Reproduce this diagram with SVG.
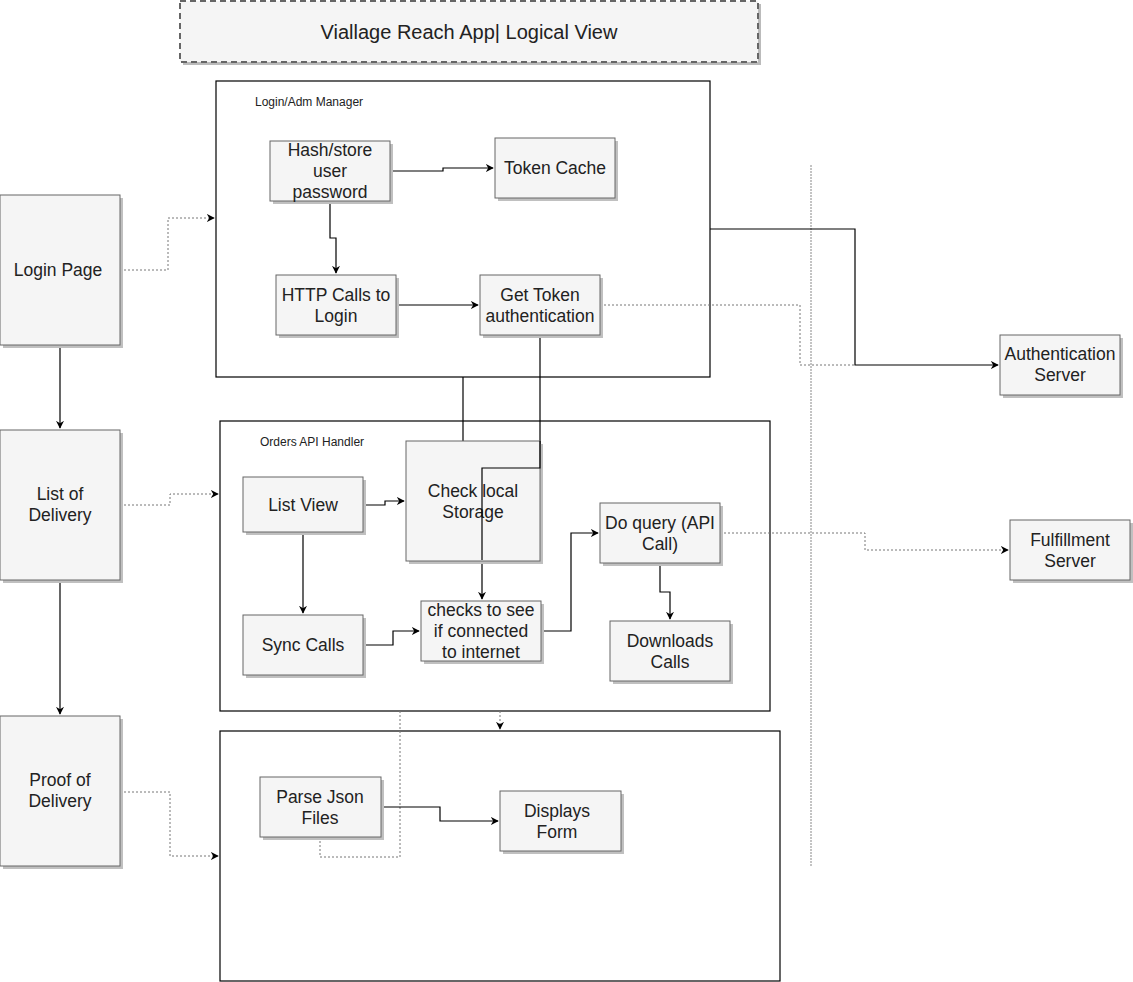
<svg xmlns="http://www.w3.org/2000/svg" width="1133" height="982" viewBox="0 0 1133 982">
<style>
text{font-family:"Liberation Sans",Arial,Helvetica,sans-serif;fill:#222;}
.n{font-size:17.5px;text-anchor:middle;}
.lbl{font-size:12px;}
.box{fill:#f5f5f5;stroke:#666;stroke-width:1;}
.sh{fill:#c0c0c0;stroke:none;}
.cont{fill:#fff;stroke:#000;stroke-width:1.2;}
.c{fill:none;stroke:#000;stroke-width:1.2;}
.d{fill:none;stroke:#777;stroke-width:1;stroke-dasharray:2,2;}
</style>
<defs>
<marker id="a" viewBox="0 0 10 10" refX="9" refY="5" markerWidth="8" markerHeight="8" markerUnits="userSpaceOnUse" orient="auto"><path d="M0,0L10,5L0,10L3,5Z" fill="#000"/></marker>
</defs>
<rect width="1133" height="982" fill="#fff"/>
<g id="title">
<rect x="183" y="4" width="578" height="61" fill="#bbb"/>
<rect x="180" y="1" width="578" height="61" fill="#f5f5f5" stroke="#666" stroke-width="2" stroke-dasharray="6,4"/>
<text class="n" x="469" y="39" style="font-size:20px">Viallage Reach App| Logical View</text>
</g>
<g id="login-manager">
<rect class="cont" x="216" y="81" width="494" height="296"/>
<text class="lbl" x="255" y="106">Login/Adm Manager</text>
</g>
<g id="orders-api">
<rect class="cont" x="220" y="421" width="550" height="290"/>
<text class="lbl" x="260" y="446">Orders API Handler</text>
</g>
<g id="pod-container">
<rect class="cont" x="220" y="731" width="560" height="250"/>
</g>
<g id="divider">
<line x1="811" y1="165" x2="811" y2="866" stroke="#888" stroke-width="1" stroke-dasharray="2,1"/>
</g>
<g id="connectors">
<path class="d" d="M120,270H168V218H214" marker-end="url(#a)"/>
<path class="c" d="M60,345V428" marker-end="url(#a)"/>
<path class="c" d="M60,580V714" marker-end="url(#a)"/>
<path class="d" d="M120,505H170V494H218" marker-end="url(#a)"/>
<path class="d" d="M120,792H170V856H218" marker-end="url(#a)"/>
<path class="c" d="M390,171H443V168H493" marker-end="url(#a)"/>
<path class="c" d="M330,201V238H336V273" marker-end="url(#a)"/>
<path class="c" d="M396,305H478" marker-end="url(#a)"/>
<path class="d" d="M600,305H800V365H855"/>
<path class="c" d="M710,229H855V365H998" marker-end="url(#a)"/>
<path class="c" d="M463,377V441"/>
<path class="c" d="M540,335V468H482V599" marker-end="url(#a)"/>
<path class="c" d="M363,505H385V501H404" marker-end="url(#a)"/>
<path class="c" d="M303,532V613" marker-end="url(#a)"/>
<path class="c" d="M363,645H393V631H419" marker-end="url(#a)"/>
<path class="c" d="M541,631H571V533H598" marker-end="url(#a)"/>
<path class="c" d="M660,563V592H670V619" marker-end="url(#a)"/>
<path class="d" d="M720,533H865V550H1008" marker-end="url(#a)"/>
<path class="d" d="M500,711V729" marker-end="url(#a)"/>
<path class="d" d="M320,837V857H400V711"/>
<path class="c" d="M381,807H440V821H498" marker-end="url(#a)"/>
</g>
<g id="login-page">
<rect class="sh" x="3" y="198" width="120" height="150"/>
<rect class="box" x="0" y="195" width="120" height="150"/>
<text class="n" x="58" y="276">Login Page</text>
</g>
<g id="list-of-delivery">
<rect class="sh" x="3" y="433" width="120" height="150"/>
<rect class="box" x="0" y="430" width="120" height="150"/>
<text class="n" x="60" y="500">List of</text>
<text class="n" x="60" y="521">Delivery</text>
</g>
<g id="proof-of-delivery">
<rect class="sh" x="3" y="719" width="120" height="150"/>
<rect class="box" x="0" y="716" width="120" height="150"/>
<text class="n" x="60" y="786">Proof of</text>
<text class="n" x="60" y="807">Delivery</text>
</g>
<g id="hash-store">
<rect class="sh" x="273" y="144" width="120" height="60"/>
<rect class="box" x="270" y="141" width="120" height="60"/>
<text class="n" x="330" y="156">Hash/store</text>
<text class="n" x="330" y="177">user</text>
<text class="n" x="330" y="198">password</text>
</g>
<g id="token-cache">
<rect class="sh" x="498" y="141" width="120" height="60"/>
<rect class="box" x="495" y="138" width="120" height="60"/>
<text class="n" x="555" y="174">Token Cache</text>
</g>
<g id="http-calls">
<rect class="sh" x="279" y="278" width="120" height="60"/>
<rect class="box" x="276" y="275" width="120" height="60"/>
<text class="n" x="336" y="301">HTTP Calls to</text>
<text class="n" x="336" y="322">Login</text>
</g>
<g id="get-token">
<rect class="sh" x="483" y="278" width="120" height="60"/>
<rect class="box" x="480" y="275" width="120" height="60"/>
<text class="n" x="540" y="301">Get Token</text>
<text class="n" x="540" y="322">authentication</text>
</g>
<g id="auth-server">
<rect class="sh" x="1003" y="338" width="120" height="60"/>
<rect class="box" x="1000" y="335" width="120" height="60"/>
<text class="n" x="1060" y="360">Authentication</text>
<text class="n" x="1060" y="381">Server</text>
</g>
<g id="list-view">
<rect class="sh" x="246" y="480" width="120" height="55"/>
<rect class="box" x="243" y="477" width="120" height="55"/>
<text class="n" x="303" y="511">List View</text>
</g>
<g id="check-local">
<rect class="sh" x="409" y="444" width="134" height="120"/>
<rect class="box" x="406" y="441" width="134" height="120"/>
<text class="n" x="473" y="497">Check local</text>
<text class="n" x="473" y="518">Storage</text>
</g>
<path class="c" d="M540,441V468H482V560" id="overlay-line"/>
<g id="sync-calls">
<rect class="sh" x="246" y="618" width="120" height="60"/>
<rect class="box" x="243" y="615" width="120" height="60"/>
<text class="n" x="303" y="651">Sync Calls</text>
</g>
<g id="checks-internet">
<rect class="sh" x="424" y="604" width="120" height="60"/>
<rect class="box" x="421" y="601" width="120" height="60"/>
<text class="n" x="481" y="616">checks to see</text>
<text class="n" x="481" y="637">if connected</text>
<text class="n" x="481" y="658">to internet</text>
</g>
<g id="do-query">
<rect class="sh" x="603" y="506" width="120" height="60"/>
<rect class="box" x="600" y="503" width="120" height="60"/>
<text class="n" x="660" y="529">Do query (API</text>
<text class="n" x="660" y="550">Call)</text>
</g>
<g id="downloads-calls">
<rect class="sh" x="613" y="624" width="120" height="60"/>
<rect class="box" x="610" y="621" width="120" height="60"/>
<text class="n" x="670" y="647">Downloads</text>
<text class="n" x="670" y="668">Calls</text>
</g>
<g id="fulfillment-server">
<rect class="sh" x="1013" y="523" width="120" height="60"/>
<rect class="box" x="1010" y="520" width="120" height="60"/>
<text class="n" x="1070" y="546">Fulfillment</text>
<text class="n" x="1070" y="567">Server</text>
</g>
<g id="parse-json">
<rect class="sh" x="263" y="780" width="121" height="60"/>
<rect class="box" x="260" y="777" width="121" height="60"/>
<text class="n" x="320" y="803">Parse Json</text>
<text class="n" x="320" y="824">Files</text>
</g>
<g id="displays-form">
<rect class="sh" x="503" y="794" width="121" height="60"/>
<rect class="box" x="500" y="791" width="121" height="60"/>
<text class="n" x="557" y="817">Displays</text>
<text class="n" x="557" y="838">Form</text>
</g>
</svg>
